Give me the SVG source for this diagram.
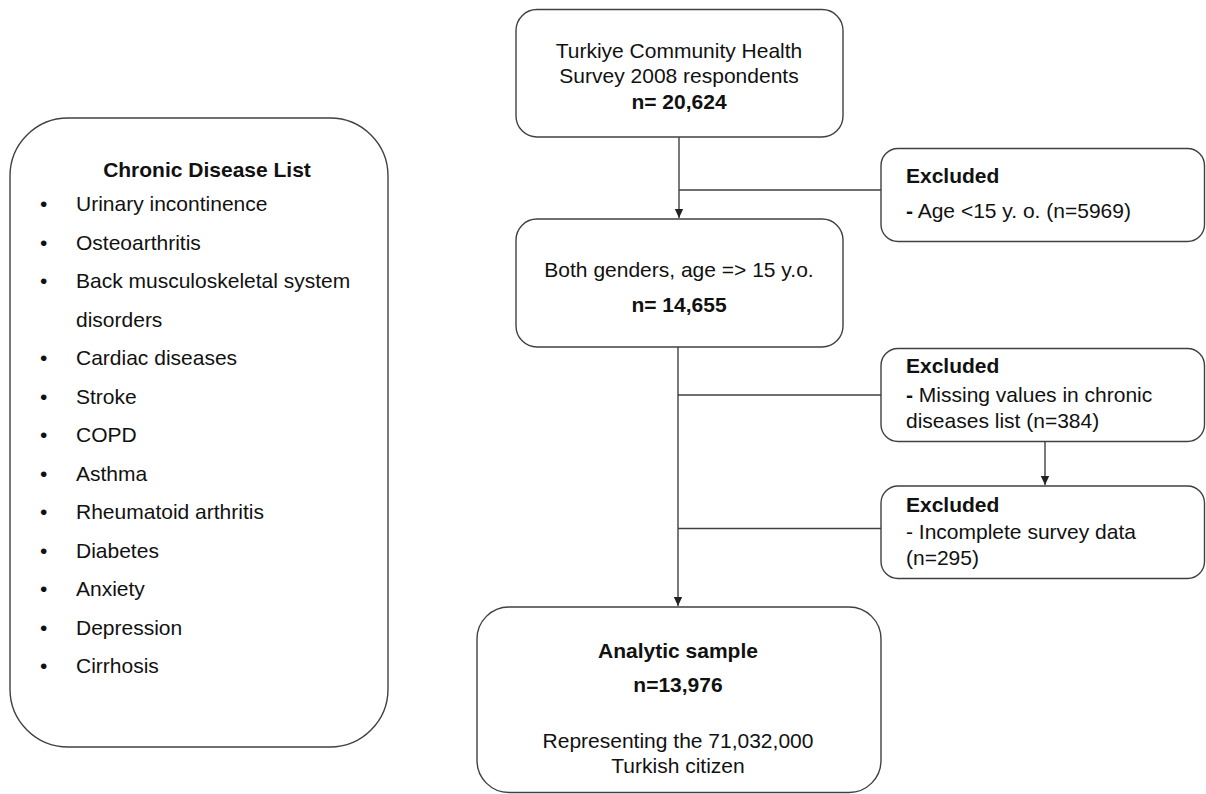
<svg xmlns="http://www.w3.org/2000/svg" width="1206" height="794" viewBox="0 0 1206 794">
<defs>
<style>
.box{fill:#fff;stroke:#404040;stroke-width:1.4}
.t{font-family:"Liberation Sans",Arial,sans-serif;font-size:21px;fill:#111}
.b{font-weight:bold}
.c{text-anchor:middle}
.ln{stroke:#404040;stroke-width:1.4;fill:none}
</style>
<marker id="ah" markerWidth="10" markerHeight="10" refX="9" refY="5" orient="auto" markerUnits="userSpaceOnUse">
<path d="M0,0.8 L9,5 L0,9.2 Z" fill="#222"/>
</marker>
</defs>
<rect width="1206" height="794" fill="#fff"/>

<g id="connectors">
<line class="ln" x1="679" y1="137" x2="679" y2="218" marker-end="url(#ah)"/>
<line class="ln" x1="679" y1="190" x2="881" y2="190"/>
<line class="ln" x1="678" y1="347" x2="678" y2="606" marker-end="url(#ah)"/>
<line class="ln" x1="678" y1="395" x2="881" y2="395"/>
<line class="ln" x1="678" y1="528.5" x2="881" y2="528.5"/>
<line class="ln" x1="1045" y1="442" x2="1045" y2="485" marker-end="url(#ah)"/>
</g>

<g id="chronic-list">
<rect class="box" x="10" y="118" width="378" height="629" rx="58" ry="58"/>
<text class="t b c" x="207" y="177">Chronic Disease List</text>
<g class="t">
<text class="t" x="40" y="211">•</text><text class="t" x="76" y="211">Urinary incontinence</text>
<text class="t" x="40" y="249.5">•</text><text class="t" x="76" y="249.5">Osteoarthritis</text>
<text class="t" x="40" y="288">•</text><text class="t" x="76" y="288">Back musculoskeletal system</text>
<text class="t" x="76" y="326.5">disorders</text>
<text class="t" x="40" y="365">•</text><text class="t" x="76" y="365">Cardiac diseases</text>
<text class="t" x="40" y="403.5">•</text><text class="t" x="76" y="403.5">Stroke</text>
<text class="t" x="40" y="442">•</text><text class="t" x="76" y="442">COPD</text>
<text class="t" x="40" y="480.5">•</text><text class="t" x="76" y="480.5">Asthma</text>
<text class="t" x="40" y="519">•</text><text class="t" x="76" y="519">Rheumatoid arthritis</text>
<text class="t" x="40" y="557.5">•</text><text class="t" x="76" y="557.5">Diabetes</text>
<text class="t" x="40" y="596">•</text><text class="t" x="76" y="596">Anxiety</text>
<text class="t" x="40" y="634.5">•</text><text class="t" x="76" y="634.5">Depression</text>
<text class="t" x="40" y="673">•</text><text class="t" x="76" y="673">Cirrhosis</text>
</g>
</g>

<g id="survey">
<rect class="box" x="516" y="9.5" width="327" height="127.5" rx="21" ry="21"/>
<text class="t c" x="679" y="58">Turkiye Community Health</text>
<text class="t c" x="679" y="83">Survey 2008 respondents</text>
<text class="t b c" x="679" y="109">n= 20,624</text>
</g>

<g id="excluded-age">
<rect class="box" x="881" y="148.5" width="323.5" height="93" rx="17" ry="17"/>
<text class="t b" x="906" y="183">Excluded</text>
<text class="t" x="906" y="218"><tspan class="b">-</tspan> Age &lt;15 y. o. (n=5969)</text>
</g>

<g id="both-genders">
<rect class="box" x="516" y="219" width="327" height="128" rx="21" ry="21"/>
<text class="t c" x="679" y="277">Both genders, age =&gt; 15 y.o.</text>
<text class="t b c" x="679" y="312">n= 14,655</text>
</g>

<g id="excluded-missing">
<rect class="box" x="881" y="348.5" width="323.5" height="93" rx="17" ry="17"/>
<text class="t b" x="906" y="373">Excluded</text>
<text class="t" x="906" y="401.5"><tspan class="b">-</tspan> Missing values in chronic</text>
<text class="t" x="906" y="427.5">diseases list (n=384)</text>
</g>

<g id="excluded-incomplete">
<rect class="box" x="881" y="486" width="323.5" height="92.5" rx="17" ry="17"/>
<text class="t b" x="906" y="511.5">Excluded</text>
<text class="t" x="906" y="539">- Incomplete survey data</text>
<text class="t" x="906" y="565">(n=295)</text>
</g>

<g id="analytic-sample">
<rect class="box" x="477" y="607" width="404" height="185.5" rx="32" ry="32"/>
<text class="t b c" x="678" y="658">Analytic sample</text>
<text class="t b c" x="678" y="691.5">n=13,976</text>
<text class="t c" x="678" y="748">Representing the 71,032,000</text>
<text class="t c" x="678" y="773">Turkish citizen</text>
</g>
</svg>
